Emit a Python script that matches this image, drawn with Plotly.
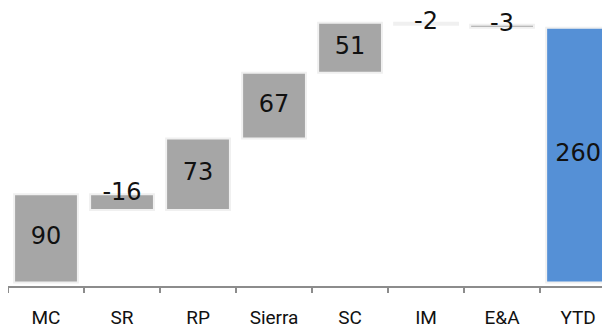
import plotly.graph_objects as go

categories = ["MC", "SR", "RP", "Sierra", "SC", "IM", "E&A", "YTD"]
values = [90, -16, 73, 67, 51, -2, -3, 260]
measures = ["relative"] * 7 + ["total"]
labels = ["90", "-16", "73", "67", "51", "-2", "-3", "260"]

# label anchor: middle of positive bars, top edge of negative bars
label_y = []
cum = 0
for v, m in zip(values, measures):
    if m == "total":
        label_y.append(v / 2)
        continue
    start, end = cum, cum + v
    label_y.append((start + end) / 2 if v >= 0 else start)
    cum = end

GRAY = "#a6a6a6"
BLUE = "#5590d6"
BORDER = "#f0f0f0"
FONT = "Roboto"
NUMFONT = "DejaVu Sans"

fig = go.Figure()
fig.add_trace(go.Waterfall(
    x=categories, y=values, measure=measures,
    width=0.84,
    increasing=dict(marker=dict(color=GRAY, line=dict(color=BORDER, width=2))),
    decreasing=dict(marker=dict(color=GRAY, line=dict(color=BORDER, width=2))),
    totals=dict(marker=dict(color=BLUE, line=dict(color=BORDER, width=2))),
    connector=dict(visible=False),
    hoverinfo="skip",
))
fig.add_trace(go.Scatter(
    x=categories, y=label_y, text=labels, mode="text",
    textfont=dict(family=NUMFONT, size=24, color="#111111"),
    hoverinfo="skip", cliponaxis=False,
))

# the page body adds an 8px offset, so the figure is 8px smaller each way
fig.update_layout(
    width=602, height=324,
    margin=dict(l=0, r=0, t=2, b=46, autoexpand=False),
    paper_bgcolor="white", plot_bgcolor="white",
    showlegend=False,
    font=dict(family=FONT, color="#111111"),
)
fig.update_xaxes(
    type="category", range=[-0.5, 7.42], automargin=False,
    showline=True, linecolor="#8c8c8c", linewidth=2,
    ticks="outside", tickson="boundaries", ticklen=5, tickcolor="#8c8c8c", tickwidth=1.5,
    tickfont=dict(family=FONT, size=19, color="#111111"),
    showgrid=False, zeroline=False, ticklabelstandoff=13,
)
fig.update_yaxes(
    range=[-3.5, 278], visible=False, showgrid=False, zeroline=False, automargin=False,
)

fig.write_html("out.html")
